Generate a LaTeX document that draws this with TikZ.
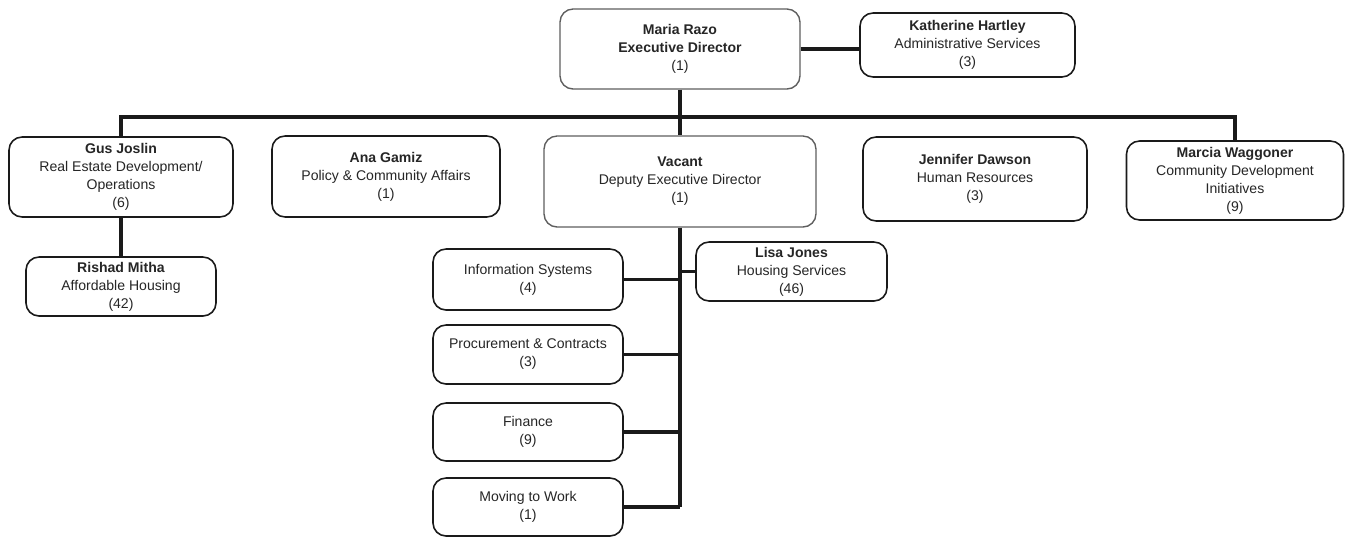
\documentclass[tikz,border=0pt]{standalone}
\usepackage{fontspec}
\setmainfont{Liberation Sans}
\usetikzlibrary{positioning,calc}
\definecolor{inkdark}{HTML}{1A1A1A}
\definecolor{framegrey}{HTML}{5E5E5E}
\definecolor{textgrey}{HTML}{262626}
\begin{document}
\begin{tikzpicture}[x=0.02cm, y=-0.02cm,
  unit/.style={draw=inkdark, line width=0.9pt, rounded corners=0.26cm, fill=white,
    align=center, inner sep=0pt, text=textgrey, font=\fontsize{8}{10.2}\selectfont,
    minimum width=#1},
  unit/.default=190*0.02cm,
  lead/.style={draw=framegrey, line width=0.8pt},
  link/.style={line width=1.9pt, inkdark}]
  \useasboundingbox (0,0) rectangle (1347,538);
  % executive level
  \node[unit=4.8cm, lead, minimum height=1.6cm] (razo) at (680,49) {\textbf{Maria Razo}\\\textbf{Executive Director}\\(1)};
  \node[unit=4.3cm, minimum height=1.28cm] (hartley) at (967.5,45) {\textbf{Katherine Hartley}\\Administrative Services\\(3)};
  % direct reports
  \node[unit=4.48cm, minimum height=1.6cm] (joslin) at (121,177) {\textbf{Gus Joslin}\\Real Estate Development/\\Operations\\(6)};
  \node[unit=4.56cm, minimum height=1.62cm] (gamiz) at (386,176.5) {\textbf{Ana Gamiz}\\Policy \& Community Affairs\\(1)};
  \node[unit=5.44cm, lead, minimum height=1.82cm] (vacant) at (680,181.5) {\textbf{Vacant}\\Deputy Executive Director\\(1)};
  \node[unit=4.48cm, minimum height=1.68cm] (dawson) at (975,179) {\textbf{Jennifer Dawson}\\Human Resources\\(3)};
  \node[unit=4.34cm, minimum height=1.58cm] (waggoner) at (1235,180.5) {\textbf{Marcia Waggoner}\\Community Development\\Initiatives\\(9)};
  \node[unit, minimum height=1.18cm] (mitha) at (121,286.5) {\textbf{Rishad Mitha}\\Affordable Housing\\(42)};
  % deputy's units
  \node[unit=3.82cm, minimum height=1.18cm] (jones) at (791.5,271.5) {\textbf{Lisa Jones}\\Housing Services\\(46)};
  \node[unit, minimum height=1.22cm] (infosys) at (528,279.5) {Information Systems\\(4)};
  \node[unit, minimum height=1.18cm] (procure) at (528,354.5) {Procurement \& Contracts\\(3)};
  \node[unit, minimum height=1.16cm] (finance) at (528,432) {Finance\\(9)};
  \node[unit, minimum height=1.16cm] (mtw) at (528,507) {Moving to Work\\(1)};
  \coordinate (bus) at (680,117);
  % connectors
  \draw[link] (razo.east) -- (razo.east -| hartley.west);
  \draw[link] (razo.south) -- (vacant.north);
  \draw[link] (joslin.north) |- (bus) -| (waggoner.north);
  \draw[link] (joslin.south) -- (mitha.north);
  \draw[link] (vacant.south) -- (vacant.south |- mtw.east);
  \draw[link] (jones.west) -- (jones.west -| vacant.south);
  \foreach \u in {infosys,procure,finance,mtw}
    \draw[link] (\u.east) -- (\u.east -| vacant.south);
\end{tikzpicture}
\end{document}
